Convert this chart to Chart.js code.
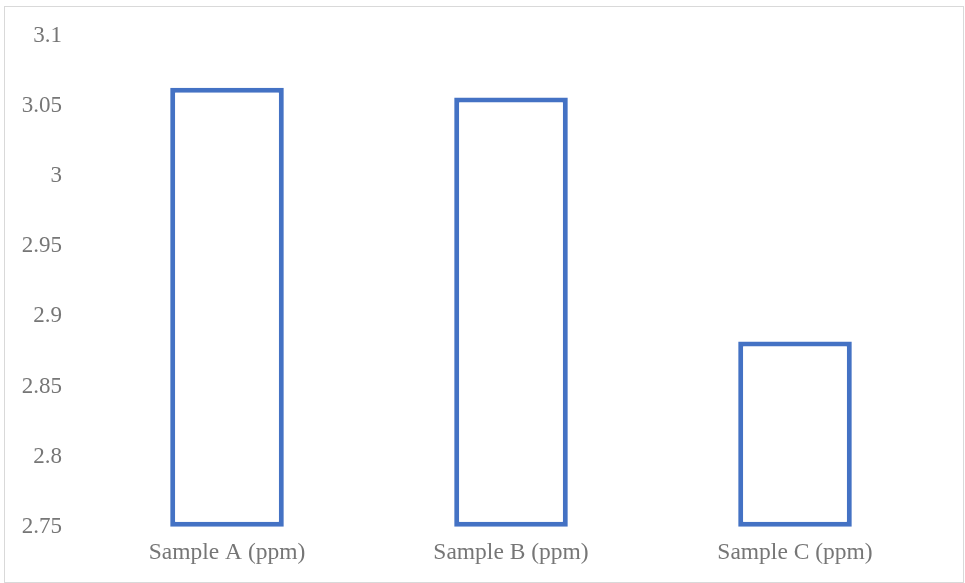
<!DOCTYPE html>
<html>
<head>
<meta charset="utf-8">
<script src="https://cdn.jsdelivr.net/npm/chart.js@4/dist/chart.umd.min.js"></script>
<style>
  html, body { margin: 0; padding: 0; background: #fff; }
  #frame { position: absolute; left: 4px; top: 6px; width: 960px; height: 577px; border: 1px solid #d9d9d9; box-sizing: border-box; }
  #wrap { position: absolute; left: 0; top: 0; width: 958px; height: 575px; }
</style>
</head>
<body>
<div id="frame"><div id="wrap"><canvas id="c"></canvas></div></div>
<script>
const categories = ['Sample A (ppm)', 'Sample B (ppm)', 'Sample C (ppm)'];
const values = [3.063, 3.056, 2.882];
const yMin = 2.75;
const yMax = 3.1;
const yStep = 0.05;

const FONT = "'Liberation Serif', 'Times New Roman', serif";
const TEXT = '#767676';

new Chart(document.getElementById('c'), {
  type: 'bar',
  data: {
    labels: categories,
    datasets: [{
      data: values,
      base: yMin,
      clip: false,
      backgroundColor: '#ffffff',
      borderColor: '#4472C4',
      borderWidth: 5,
      borderSkipped: false,
      categoryPercentage: 0.8,
      barPercentage: 0.5
    }]
  },
  options: {
    responsive: true,
    maintainAspectRatio: false,
    animation: false,
    layout: { padding: { top: 26.5, right: 26, bottom: 11, left: 0 } },
    plugins: { legend: { display: false }, tooltip: { enabled: false } },
    scales: {
      x: {
        grid: { display: false },
        border: { display: false },
        ticks: { color: TEXT, font: { family: FONT, size: 23.5 }, padding: 4 }
      },
      y: {
        min: yMin,
        max: yMax,
        grid: { display: false },
        border: { display: false },
        ticks: {
          stepSize: yStep,
          color: TEXT,
          font: { family: FONT, size: 23 },
          padding: 15,
          callback: (v) => String(Number(v.toFixed(2)))
        },
        afterFit: (s) => { s.width = 80; }
      }
    }
  }
});
</script>
</body>
</html>
